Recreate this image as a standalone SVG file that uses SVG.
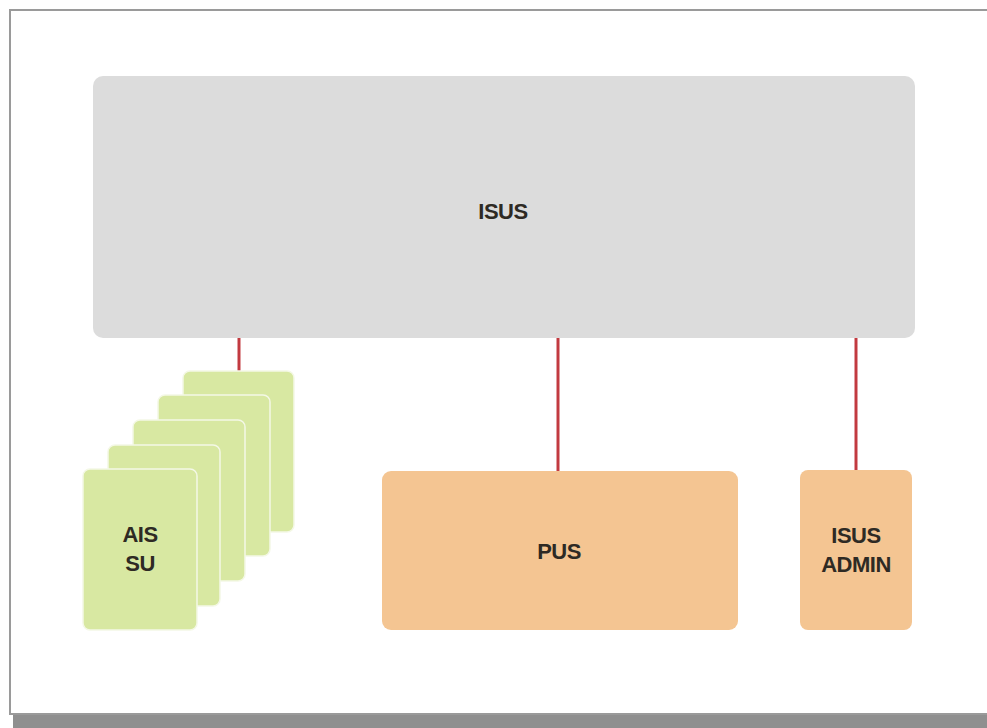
<svg xmlns="http://www.w3.org/2000/svg" width="987" height="728" viewBox="0 0 987 728">
<style>
.lbl{font-family:"Liberation Sans",Arial,sans-serif;font-weight:bold;font-size:22px;fill:#2e2a24;text-anchor:middle;letter-spacing:-0.5px}
.card{fill:#d8e8a2;stroke:#f4f8e6;stroke-width:1.5}
.orange{fill:#f4c592}
.conn{stroke:#c23a40;stroke-width:3;fill:none}
</style>
<rect x="0" y="0" width="987" height="728" fill="#ffffff"/>
<rect x="13" y="715" width="974" height="13" fill="#8f8f8f"/>
<rect x="10" y="10" width="990" height="704" fill="#ffffff" stroke="#9a9a9a" stroke-width="2"/>
<g id="connectors">
<line class="conn" x1="239" y1="336" x2="239" y2="373"/>
<line class="conn" x1="558" y1="336" x2="558" y2="471"/>
<line class="conn" x1="856" y1="336" x2="856" y2="471"/>
</g>
<g id="isus">
<rect x="93" y="76" width="822" height="262" rx="10" fill="#dcdcdc"/>
<text class="lbl" x="503" y="219">ISUS</text>
</g>
<g id="ais-su">
<rect class="card" x="183" y="371" width="111" height="161" rx="7"/>
<rect class="card" x="158" y="395" width="112" height="161" rx="7"/>
<rect class="card" x="133" y="420" width="112" height="161" rx="7"/>
<rect class="card" x="108" y="445" width="112" height="161" rx="7"/>
<rect class="card" x="83" y="469" width="114" height="161" rx="7"/>
<text class="lbl" x="140" y="542">AIS</text>
<text class="lbl" x="140" y="571">SU</text>
</g>
<g id="pus">
<rect class="orange" x="382" y="471" width="356" height="159" rx="9"/>
<text class="lbl" x="559" y="559">PUS</text>
</g>
<g id="isus-admin">
<rect class="orange" x="800" y="470" width="112" height="160" rx="8"/>
<text class="lbl" x="856" y="543">ISUS</text>
<text class="lbl" x="856" y="572">ADMIN</text>
</g>
</svg>
